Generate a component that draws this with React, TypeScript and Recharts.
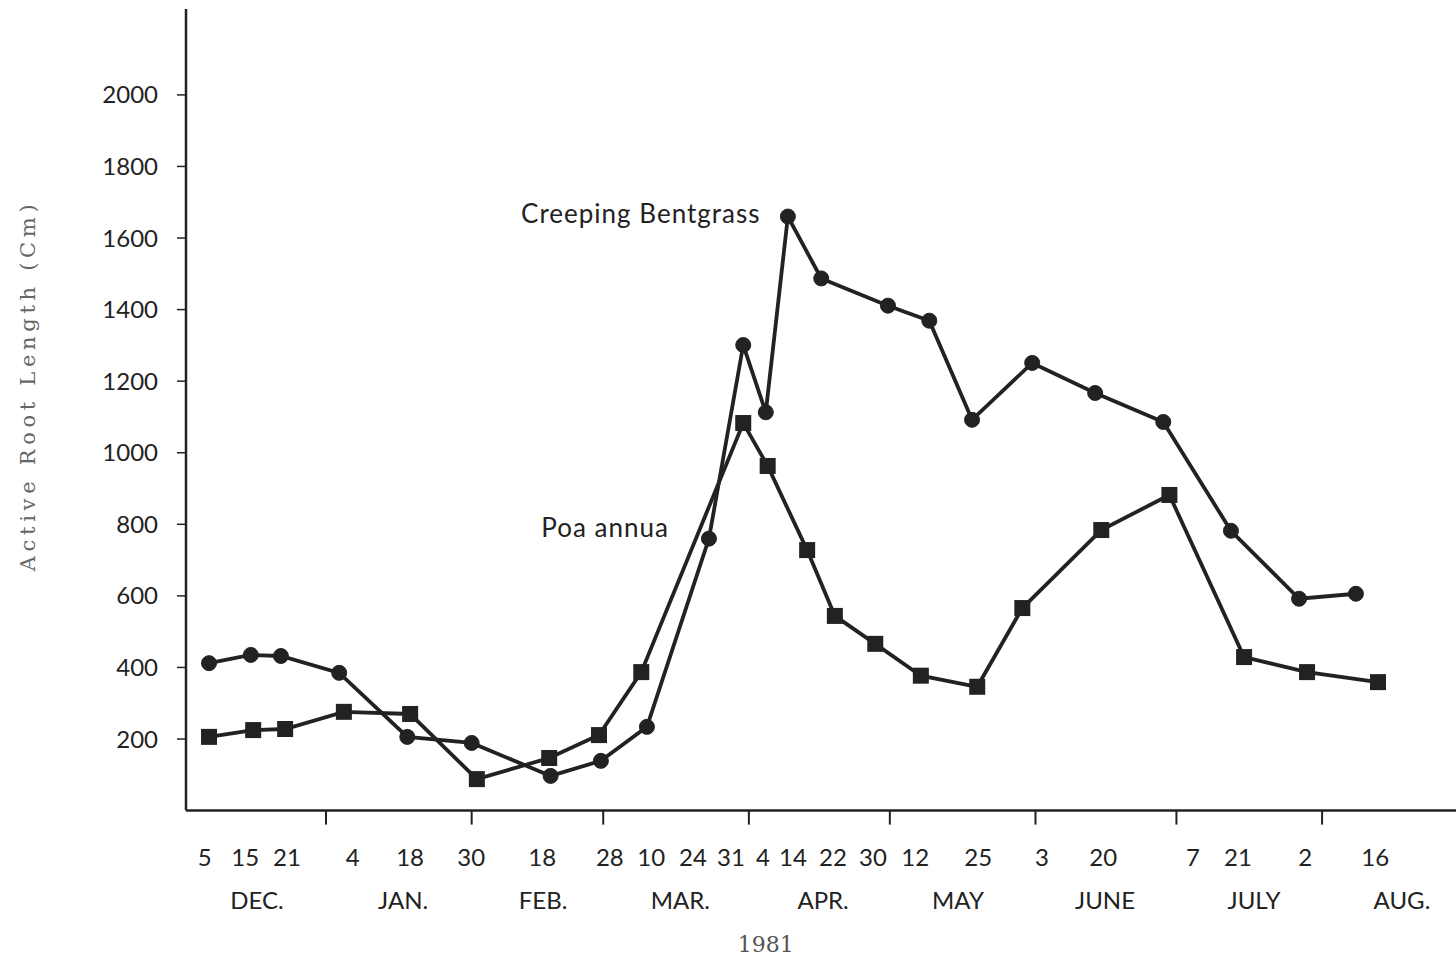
import { LineChart, Line, XAxis, YAxis, ReferenceDot } from "recharts";

const WIDTH = 1456;
const HEIGHT = 956;
const INK = "#222";
const SANS = "Lato, 'Noto Sans', sans-serif";

// x = day of the season (Dec 1 1980 = 1)
const bentDays = [7.1, 16.0, 22.4, 34.8, 49.3, 63.0, 79.8, 90.5, 100.3, 113.5, 120.8, 125.6, 130.3, 137.4, 151.6, 160.4, 169.5, 182.3, 195.7, 210.2, 224.6, 239.1, 251.2];
const bentValues = [412, 435, 432, 385, 206, 189, 97, 139, 234, 760, 1301, 1113, 1660, 1487, 1411, 1369, 1092, 1251, 1167, 1086, 782, 592, 606];

const poaDays = [7.1, 16.5, 23.3, 35.8, 49.9, 64.1, 79.5, 90.1, 99.1, 120.8, 126.0, 134.4, 140.3, 148.9, 158.6, 170.6, 180.2, 197.0, 211.5, 227.4, 240.8, 255.9];
const poaValues = [206, 225, 228, 276, 270, 88, 147, 211, 387, 1083, 963, 728, 544, 466, 377, 346, 566, 784, 882, 429, 387, 359];

// first day of each month, Jan..Aug
const monthStarts = [32, 63, 91, 122, 152, 183, 213, 244];

const dayTickPos = [6.2, 14.8, 23.7, 37.7, 49.9, 62.9, 78.0, 92.4, 101.2, 110.1, 118.2, 125.0, 131.4, 139.9, 148.4, 157.4, 170.8, 184.4, 197.4, 216.5, 226.1, 240.4, 255.3];
const dayTickLabels = ["5", "15", "21", "4", "18", "30", "18", "28", "10", "24", "31", "4", "14", "22", "30", "12", "25", "3", "20", "7", "21", "2", "16"];

const monthPos = [17.3, 48.4, 78.2, 107.4, 137.8, 166.5, 197.8, 229.5, 261.0];
const monthLabels = ["DEC.", "JAN.", "FEB.", "MAR.", "APR.", "MAY", "JUNE", "JULY", "AUG."];
const yearPos = 125.6;
const yearLabel = "1981";

const yTicks = [200, 400, 600, 800, 1000, 1200, 1400, 1600, 1800, 2000];

const notes = [
  { text: "Creeping Bentgrass", day: 99.0, value: 1670 },
  { text: "Poa annua", day: 91.4, value: 793 },
];

const bentData = bentDays.map((d, i) => ({ d, v: bentValues[i] }));
const poaData = poaDays.map((d, i) => ({ d, v: poaValues[i] }));

const X_DOMAIN: [number, number] = [2.2, 272.5];
const allXTicks = [...monthStarts, ...dayTickPos, ...monthPos, yearPos];

// one axis carries everything under the plot: month boundary marks, day numbers, months, year
const XTick = (props: any) => {
  const { x, y, payload } = props;
  const v = payload.value;
  if (monthStarts.includes(v)) {
    return <line x1={x} x2={x} y1={y} y2={y + 14} stroke={INK} strokeWidth={2} />;
  }
  const di = dayTickPos.indexOf(v);
  if (di >= 0) {
    return (
      <text x={x} y={y + 55} textAnchor="middle" fontFamily={SANS} fontSize={24} fill={INK}>
        {dayTickLabels[di]}
      </text>
    );
  }
  const mi = monthPos.indexOf(v);
  if (mi >= 0) {
    return (
      <text x={x} y={y + 98} textAnchor="middle" fontFamily={SANS} fontSize={24} fill={INK}>
        {monthLabels[mi]}
      </text>
    );
  }
  return (
    <text x={x} y={y + 141} textAnchor="middle" fontFamily="'DejaVu Serif', serif" fontSize={22} fill="#555">
      {yearLabel}
    </text>
  );
};

const SquareDot = (props: any) => {
  const { cx, cy, index } = props;
  return <rect key={`sq-${index}`} x={cx - 8} y={cy - 8} width={16} height={16} fill={INK} />;
};

const YTitle = (props: any) => {
  const vb = props.viewBox;
  const cx = vb.x + 28;
  const cy = vb.y + vb.height / 2 - 22;
  return (
    <text
      transform={`translate(${cx},${cy}) rotate(-90)`}
      textAnchor="middle"
      dominantBaseline="central"
      fontFamily="'DejaVu Serif', serif"
      fontSize={21}
      textLength={367}
      lengthAdjust="spacing"
      fill="#666"
    >
      Active Root Length (Cm)
    </text>
  );
};

export default function App() {
  return (
    <div style={{ width: WIDTH, height: HEIGHT, background: "#fff" }}>
      <style>{`body{margin:0;background:#fff}`}</style>
      <LineChart width={WIDTH} height={HEIGHT} margin={{ top: 9, right: 0, bottom: 0, left: 0 }}>
        <XAxis
          type="number"
          dataKey="d"
          domain={X_DOMAIN}
          allowDataOverflow
          ticks={allXTicks}
          interval={0}
          tick={<XTick />}
          tickSize={0}
          tickMargin={0}
          tickLine={false}
          height={145.4}
          axisLine={{ stroke: INK, strokeWidth: 2.5 }}
        />
        <YAxis
          type="number"
          domain={[0, 2240]}
          allowDataOverflow
          ticks={yTicks}
          interval={0}
          width={186}
          tickSize={9}
          tickMargin={19}
          axisLine={{ stroke: INK, strokeWidth: 2.5 }}
          tickLine={{ stroke: INK, strokeWidth: 1.5 }}
          tick={{ fontFamily: SANS, fontSize: 24, fill: INK }}
          label={{ content: <YTitle /> }}
        />
        <Line
          data={bentData}
          dataKey="v"
          type="linear"
          stroke={INK}
          strokeWidth={3.8}
          dot={{ r: 7.5, fill: INK, stroke: INK, strokeWidth: 1 }}
          activeDot={false}
          isAnimationActive={false}
        />
        <Line
          data={poaData}
          dataKey="v"
          type="linear"
          stroke={INK}
          strokeWidth={3.8}
          dot={<SquareDot />}
          activeDot={false}
          isAnimationActive={false}
        />
        {notes.map((n) => (
          <ReferenceDot
            key={n.text}
            x={n.day}
            y={n.value}
            r={0}
            ifOverflow="visible"
            shape={(p: any) => (
              <text
                x={p.cx}
                y={p.cy}
                textAnchor="middle"
                dominantBaseline="central"
                fontFamily={SANS}
                fontSize={26}
                letterSpacing={1}
                fill={INK}
              >
                {n.text}
              </text>
            )}
          />
        ))}
      </LineChart>
    </div>
  );
}
